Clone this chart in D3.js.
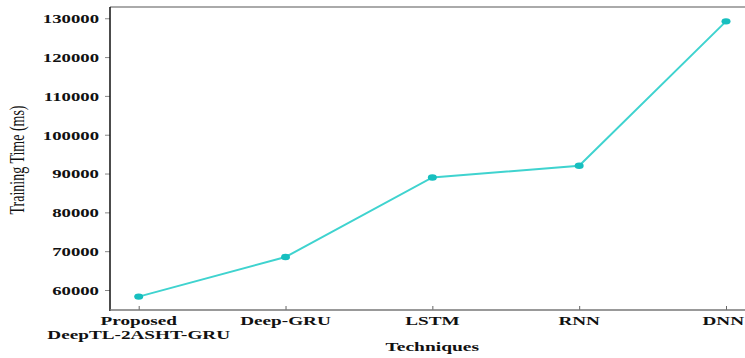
<!DOCTYPE html>
<html><head><meta charset="utf-8">
<script src="https://cdn.jsdelivr.net/npm/d3@7"></script>
<style>body{margin:0;background:#fff}</style>
</head><body>
<svg id="c" width="745" height="358"></svg>
<script>
const categories = [["Proposed","DeepTL-2ASHT-GRU"],["Deep-GRU"],["LSTM"],["RNN"],["DNN"]];
const trainingTime = [58300, 68500, 89000, 92000, 129200];
const yTicks = [60000,70000,80000,90000,100000,110000,120000,130000];

const svg = d3.select("#c");
const SX = 1.5;
const mLeft = 110, mTop = 7, mBottom = 310, W = 745;
const x = d3.scalePoint().domain(d3.range(categories.length)).range([138.7, 726]);
const y = d3.scaleLinear().domain([54850, 132900]).range([mBottom, mTop]);
const font = "'Liberation Serif','Times New Roman',serif";

// top border
svg.append("line").attr("x1", mLeft).attr("x2", W).attr("y1", mTop).attr("y2", mTop)
  .attr("stroke", "#aaa").attr("stroke-width", 2);

// y axis
const ya = svg.append("g").attr("transform", `translate(${mLeft},0)`)
  .call(d3.axisLeft(y).tickValues(yTicks).tickSize(5).tickPadding(6).tickFormat(d3.format("d")));
ya.select(".domain").remove();
ya.selectAll(".tick line").attr("stroke", "#888");
ya.selectAll(".tick text").each(function(){
  d3.select(this)
   .attr("font-family", font).attr("font-weight", "bold").attr("font-size", 12.5).attr("fill", "#111")
   .attr("text-anchor", "end").attr("dy", "0.35em").attr("x", 0)
   .attr("transform", `translate(-11,0) scale(${SX},1)`);
});
svg.append("line").attr("x1", mLeft).attr("x2", mLeft).attr("y1", mTop).attr("y2", mBottom + 1)
  .attr("stroke", "#111").attr("stroke-width", 1.5);

// x axis
const xa = svg.append("g").attr("transform", `translate(0,${mBottom})`)
  .call(d3.axisBottom(x).tickSize(-4).tickFormat(""));
xa.select(".domain").remove();
xa.selectAll(".tick line").attr("stroke", "#666");
svg.append("line").attr("x1", mLeft).attr("x2", W).attr("y1", mBottom).attr("y2", mBottom)
  .attr("stroke", "#777").attr("stroke-width", 1.5);

const XS = 1.6;
categories.forEach((lines, i) => {
  lines.forEach((s, j) => {
    const t = svg.append("text")
      .attr("text-anchor", "middle").attr("font-family", font).attr("font-weight", "bold")
      .attr("font-size", 12).attr("fill", "#111").text(s);
    const w = t.node().getComputedTextLength() * XS;
    let cx = x(i);
    if (cx + w / 2 > W - 1) cx = W - 1 - w / 2;
    t.attr("transform", `translate(${cx},${324.5 + j * 14}) scale(${XS},1)`);
  });
});

// axis titles
svg.append("text").attr("transform", `translate(${x(2)},351) scale(${SX},1)`)
  .attr("text-anchor", "middle").attr("font-family", font).attr("font-weight", "bold")
  .attr("font-size", 13).attr("fill", "#111").text("Techniques");
svg.append("text").attr("transform", `translate(24,160) scale(${SX},1) rotate(-90)`)
  .attr("text-anchor", "middle").attr("font-family", font)
  .attr("font-size", 14).attr("fill", "#111").text("Training Time (ms)");

// line + markers
const line = d3.line().x((d, i) => x(i)).y(d => y(d));
svg.append("path").datum(trainingTime).attr("d", line)
  .attr("fill", "none").attr("stroke", "#3fd3cf").attr("stroke-width", 2);
svg.selectAll("ellipse.pt").data(trainingTime).enter().append("ellipse")
  .attr("cx", (d, i) => x(i)).attr("cy", d => y(d)).attr("rx", 4.5).attr("ry", 3.2)
  .attr("fill", "#17bfbf");
</script>
</body></html>
